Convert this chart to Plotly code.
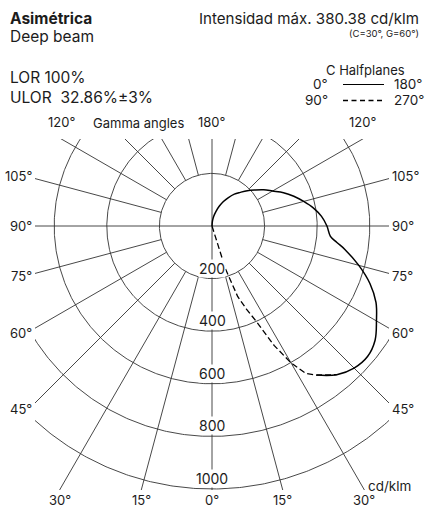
import numpy as np
import plotly.graph_objects as go

# ---------------- data (cd/klm) ----------------
# C0-C180 half plane (solid)
gamma_c0 = [35, 40, 45, 50, 55, 60, 65, 70, 75, 80, 82.5, 85, 90, 95, 100, 105, 110,
            115, 120, 125, 130, 135, 140, 145, 150, 155, 160, 165, 170, 175, 180]
int_c0 = [692, 738, 764, 772, 757, 722, 688, 639, 578, 513, 479, 452, 437, 418, 392, 361, 331,
          300, 266, 240, 213, 190, 167, 148, 125, 103, 80, 57, 38, 19, 0]
# C90-C270 half plane (dashed)
gamma_c90 = [0, 5, 10, 15, 17.5, 20, 22.5, 25, 27.5, 30, 32.5, 35, 40]
int_c90 = [0, 0, 0, 0, 171, 285, 342, 403, 513, 601, 665, 692, 738]

radial_ticks = [200, 400, 600, 800, 1000]
gamma_grid = [0, 15, 30, 45, 60, 75, 90, 105, 120, 135, 150, 165, 180]
gamma_labels = [0, 15, 30, 45, 60, 75, 90, 105, 120, 180]

# ---------------- geometry / layout ----------------
W, H = 425, 510
L, T = 35, 139
plot_w, plot_h = 354, 351
R, B = W - L - plot_w, H - T - plot_h
cx_px, cy_px = 212, 226
u = 200 / 52.6  # units per pixel
XMIN, XMAX = -(cx_px - L) * u, (L + plot_w - cx_px) * u
YMIN, YMAX = -(T + plot_h - cy_px) * u, (cy_px - T) * u

INK = "#1c1c1c"
GRID = "#333333"
FONT = "Inter"
HDR = 15.5


def polar_xy(gam, inten, side=1):
    g = np.radians(np.asarray(gam, dtype=float))
    r = np.asarray(inten, dtype=float)
    return side * r * np.sin(g), -r * np.cos(g)


fig = go.Figure()

# grid circles
gx, gy = [], []
th = np.linspace(0, 2 * np.pi, 721)
for r in radial_ticks:
    gx += list(r * np.sin(th)) + [None]
    gy += list(r * np.cos(th)) + [None]
# radial lines
BIG = 3000
for g in gamma_grid:
    gr = np.radians(g)
    if g in (0, 90, 180):
        if g == 90:
            gx += [-BIG, BIG, None]
            gy += [0, 0, None]
        elif g == 0:
            gx += [0, 0, None]
            gy += [-BIG, BIG, None]
        continue
    for s in (1, -1):
        r0 = radial_ticks[0]
        gx += [s * r0 * np.sin(gr), s * BIG * np.sin(gr), None]
        gy += [-r0 * np.cos(gr), -BIG * np.cos(gr), None]
fig.add_trace(go.Scatter(x=gx, y=gy, mode="lines",
                         line=dict(color=GRID, width=0.9), hoverinfo="skip"))

# photometric curves
x0, y0 = polar_xy(gamma_c0, int_c0, 1)
fig.add_trace(go.Scatter(x=x0, y=y0, mode="lines", name="C0-C180",
                         line=dict(color="#000", width=1.5), line_shape="spline"))
x9, y9 = polar_xy(gamma_c90, int_c90, 1)
fig.add_trace(go.Scatter(x=x9, y=y9, mode="lines", name="C90-C270",
                         line=dict(color="#000", width=1.3, dash="6px,3px")))


def PX(x):  # page pixel -> paper
    return (x - L) / plot_w


def PY(y):
    return (T + plot_h - y) / plot_h


def dx2paper(x):
    return (x - XMIN) / (XMAX - XMIN)


def dy2paper(y):
    return (y - YMIN) / (YMAX - YMIN)


ann = []


def text(x, y, s, size=HDR, xa="left", ya="middle", bold=False, **kw):
    ann.append(dict(xref="paper", yref="paper", x=PX(x), y=PY(y), text=(f"<b>{s}</b>" if bold else s),
                    showarrow=False, xanchor=xa, yanchor=ya,
                    font=dict(family=FONT, size=size, color=INK), **kw))


# gamma angle labels at end of each radial line
for g in gamma_labels:
    sides = (1,) if g in (0, 180) else (-1, 1)
    gr = np.radians(g)
    for s in sides:
        dx, dy = s * np.sin(gr), -np.cos(gr)
        ts = []
        if dx > 1e-9:
            ts.append((XMAX / dx, "right"))
        if dx < -1e-9:
            ts.append((XMIN / dx, "left"))
        if dy > 1e-9:
            ts.append((YMAX / dy, "top"))
        if dy < -1e-9:
            ts.append((YMIN / dy, "bottom"))
        t, edge = min(ts)
        ex, ey = t * dx, t * dy
        a = dict(xref="paper", yref="paper", x=dx2paper(ex), y=dy2paper(ey), text=f"{g}°",
                 showarrow=False, font=dict(family=FONT, size=13, color=INK))
        if edge == "left":
            a.update(xanchor="right", yanchor="middle", xshift=-1, yshift=9 * dy)
        elif edge == "right":
            a.update(xanchor="left", yanchor="middle", xshift=1, yshift=9 * dy)
        elif edge == "top":
            a.update(xanchor="center", yanchor="bottom", yshift=7)
        else:
            a.update(xanchor="center", yanchor="top", yshift=0)
        ann.append(a)

# radial value labels
for r in radial_ticks:
    ann.append(dict(xref="paper", yref="paper", x=dx2paper(0), y=dy2paper(-r), text=str(r),
                    showarrow=False, xanchor="center", yanchor="bottom", yshift=1,
                    bgcolor="white", borderpad=0,
                    font=dict(family=FONT, size=14, color=INK)))

text(138, 123, "Gamma angles", size=13, xa="center")
text(366, 486, "cd/klm", size=13.5)

# header
text(8, 18, "Asimétrica", bold=True)
text(8, 36, "Deep beam")
text(421, 18, "Intensidad máx. 380.38 cd/klm", size=15.1, xa="right")
text(421, 33, "(C=30°, G=60°)", size=9.5, xa="right")
text(8, 77, "LOR 100%")
text(8, 97, "ULOR\u00a0 32.86%±3%")
text(365, 70, "C Halfplanes", size=13, xa="center")
text(330, 84, "0°", size=13.5, xa="right")
text(392, 84, "180°", size=13.5)
text(330, 100, "90°", size=13.5, xa="right")
text(392, 100, "270°", size=13.5)

shapes = [
    dict(type="line", xref="paper", yref="paper", x0=PX(343), x1=PX(384), y0=PY(84.5), y1=PY(84.5),
         line=dict(color="#000", width=1.2)),
    dict(type="line", xref="paper", yref="paper", x0=PX(343), x1=PX(385), y0=PY(100.5), y1=PY(100.5),
         line=dict(color="#000", width=1.5, dash="5px,3.5px")),
]

fig.update_layout(
    width=W, height=H, margin=dict(l=L, r=R, t=T, b=B, pad=0),
    paper_bgcolor="white", plot_bgcolor="white",
    showlegend=False, hovermode=False,
    xaxis=dict(range=[XMIN, XMAX], visible=False, fixedrange=True),
    yaxis=dict(range=[YMIN, YMAX], visible=False, fixedrange=True),
    annotations=ann, shapes=shapes,
)

fig.write_html(
    "out.html",
    config={"displayModeBar": False},
    post_script="document.body.style.margin='0';document.body.style.overflow='hidden';",
)
